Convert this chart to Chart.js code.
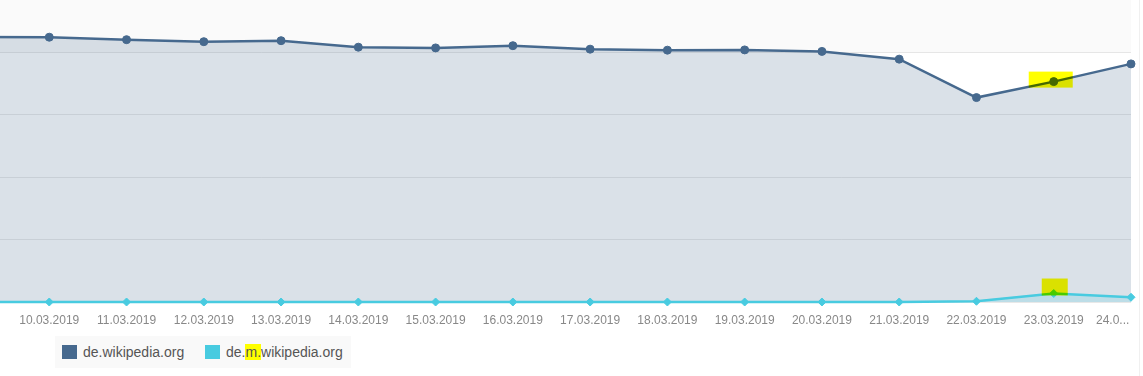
<!DOCTYPE html>
<html>
<head>
<meta charset="utf-8">
<script src="https://cdn.jsdelivr.net/npm/chart.js@4/dist/chart.umd.min.js"></script>
<style>
  html, body { margin: 0; padding: 0; background: #fff; overflow: hidden; }
  body { width: 1143px; height: 376px; position: relative; font-family: "Liberation Sans", Arial, sans-serif; }
  #trafficChart { position: absolute; left: -28px; top: 0; }
  .edge { position: absolute; left: 1139px; top: 0; width: 1px; height: 376px; background: #f0f0f0; }
  .legend {
    position: absolute; left: 55px; top: 336px; width: 296px; height: 32px;
    background: #f9f9f9; font-size: 14px; color: #555;
  }
  .legend .item { position: absolute; top: 8px; line-height: 16px; white-space: nowrap; }
  .legend .sw { display: inline-block; width: 15px; height: 14px; vertical-align: -2px; margin-right: 6px; }
  .legend .hl { background: #ffff00; }
</style>
</head>
<body>
<canvas id="trafficChart" width="1171" height="330"></canvas>
<div class="edge"></div>
<div class="legend">
  <div class="item" style="left:7px"><span class="sw" style="background:#46698e"></span>de.wikipedia.org</div>
  <div class="item" style="left:150px"><span class="sw" style="background:#48cbe0"></span>de.<span class="hl">m.</span>wikipedia.org</div>
</div>
<script>
// Tagesdaten (relative Werte, Achse ohne Beschriftung)
const labels = [
  "09.03.2019", "10.03.2019", "11.03.2019", "12.03.2019", "13.03.2019",
  "14.03.2019", "15.03.2019", "16.03.2019", "17.03.2019", "18.03.2019",
  "19.03.2019", "20.03.2019", "21.03.2019", "22.03.2019", "23.03.2019",
  "24.03.2019"
];
const deWikipedia = [106.2, 106.1, 105.1, 104.3, 104.7, 102.1, 101.8, 102.7,
  101.3, 100.9, 101.0, 100.4, 97.3, 81.9, 88.3, 95.4];
const deMobile = [0, 0, 0, 0, 0, 0, 0, 0, 0, 0, 0, 0, 0, 0.3, 3.4, 1.9];
const gridValues = [0, 25, 50, 75, 100];
const highlightIndex = 14;

const BLUE = "#46698e";
const CYAN = "#48cbe0";

// heller Streifen oberhalb der obersten Gitterlinie
const topBand = {
  id: "topBand",
  beforeDraw(chart) {
    const { ctx, chartArea } = chart;
    const y100 = chart.scales.y.getPixelForValue(gridValues[gridValues.length - 1]);
    ctx.save();
    ctx.fillStyle = "#fafafa";
    ctx.fillRect(chartArea.left, 0, chartArea.right - chartArea.left, y100);
    ctx.restore();
  }
};

// gelbe Markierung am 23.03.
const marker = {
  id: "marker",
  afterDatasetsDraw(chart) {
    const ctx = chart.ctx;
    const p0 = chart.getDatasetMeta(0).data[highlightIndex];
    const p1 = chart.getDatasetMeta(1).data[highlightIndex];
    ctx.save();
    ctx.globalCompositeOperation = "multiply";
    ctx.fillStyle = "#ffff00";
    ctx.fillRect(p0.x - 25, p0.y - 10, 44, 16);
    ctx.fillRect(p1.x - 12, p1.y - 15, 26, 17);
    ctx.restore();
  }
};

new Chart(document.getElementById("trafficChart"), {
  type: "line",
  data: {
    labels,
    datasets: [
      {
        label: "de.wikipedia.org",
        data: deWikipedia,
        borderColor: BLUE,
        backgroundColor: "rgba(70, 105, 142, 0.2)",
        fill: "origin",
        borderWidth: 2.5,
        pointRadius: 4,
        pointBackgroundColor: BLUE,
        pointBorderColor: BLUE,
        pointBorderWidth: 1,
        tension: 0,
        order: 1
      },
      {
        label: "de.m.wikipedia.org",
        data: deMobile,
        borderColor: CYAN,
        backgroundColor: "rgba(72, 203, 224, 0.2)",
        fill: "origin",
        borderWidth: 2.5,
        pointStyle: "rectRot",
        pointRadius: 4,
        pointBackgroundColor: CYAN,
        pointBorderColor: CYAN,
        pointBorderWidth: 1,
        tension: 0,
        order: 0,
        clip: false
      }
    ]
  },
  options: {
    responsive: false,
    animation: false,
    layout: { autoPadding: false, padding: { left: 0, right: 12, top: 0, bottom: 0 } },
    plugins: { legend: { display: false }, tooltip: { enabled: false } },
    scales: {
      x: {
        grid: { display: false, drawTicks: true, tickLength: 8 },
        border: { display: false },
        afterFit(scale) {
          scale.paddingLeft = 0;
          scale.paddingRight = 0;
          scale.height = 28;
        },
        ticks: {
          autoSkip: false,
          maxRotation: 0,
          padding: 3,
          color: "#888",
          font: { family: "'Liberation Sans', Arial, sans-serif", size: 12 },
          callback(value, index) {
            if (index === 0) return "";
            if (index === labels.length - 1) return "24.0..." + "           ";
            return labels[index];
          }
        }
      },
      y: {
        min: 0,
        max: 121,
        afterBuildTicks(scale) {
          scale.ticks = gridValues.map(v => ({ value: v }));
        },
        afterFit(scale) {
          scale.width = 0;
          scale.paddingTop = 0;
          scale.paddingBottom = 0;
        },
        grid: { color: "rgba(0, 0, 0, 0.09)", drawTicks: false },
        border: { display: false },
        ticks: { display: false }
      }
    }
  },
  plugins: [topBand, marker]
});
</script>
</body>
</html>
